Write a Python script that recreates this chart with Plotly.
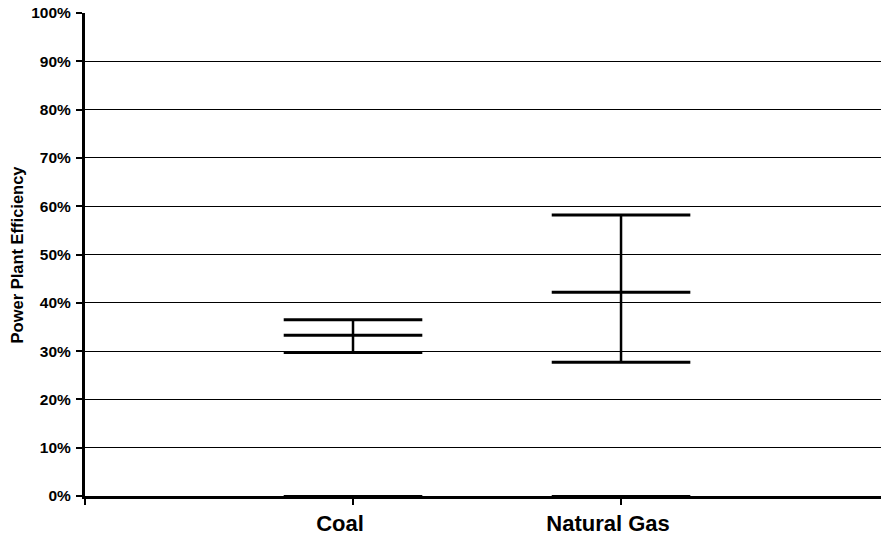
import plotly.graph_objects as go

categories = ["Coal", "Natural Gas"]
high = [36.5, 58.2]
mid = [33.3, 42.2]
low = [29.7, 27.7]
base = [0, 0]
y_ticks = [0, 10, 20, 30, 40, 50, 60, 70, 80, 90, 100]
y_tick_labels = [f"{v}%" for v in y_ticks]

x_pos = [i + 1 for i in range(len(categories))]
FONT = "Arial, Liberation Sans, sans-serif"
CAP = 99

fig = go.Figure()

# vertical high-low lines
vx, vy = [], []
for x, lo, hi in zip(x_pos, low, high):
    vx += [x, x, None]
    vy += [lo, hi, None]
fig.add_trace(go.Scatter(x=vx, y=vy, mode="lines",
                         line=dict(color="black", width=2.5),
                         showlegend=False, hoverinfo="skip"))

for vals, w in [(high, 3), (mid, 3), (low, 3), (base, 2)]:
    fig.add_trace(go.Scatter(
        x=x_pos, y=vals, mode="markers",
        marker=dict(symbol="line-ew", size=CAP,
                    line=dict(color="black", width=w)),
        showlegend=False, cliponaxis=False))

fig.update_layout(
    width=881, height=536,
    margin=dict(l=85, r=0, t=13, b=37),
    paper_bgcolor="white", plot_bgcolor="white",
    font=dict(family=FONT, color="black"),
    xaxis=dict(
        range=[0, 2.97], tickvals=[0] + x_pos, ticktext=[""] + categories,
        showgrid=False, zeroline=False,
        showline=True, linecolor="black", linewidth=2.5,
        ticks="outside", ticklen=6, tickwidth=2, tickcolor="black",
        tickfont=dict(family=FONT, size=22, weight="bold", color="black"),
        ticklabelshift=-13,
    ),
    yaxis=dict(
        range=[0, 100], tickvals=y_ticks, ticktext=y_tick_labels,
        showgrid=True, gridcolor="black", gridwidth=1,
        zeroline=False,
        showline=True, linecolor="black", linewidth=3,
        ticks="outside", ticklen=6, tickwidth=2, tickcolor="black",
        tickfont=dict(family=FONT, size=15.5, weight="bold", color="black"),
        ticklabelstandoff=2,
    ),
    annotations=[dict(
        text="Power Plant Efficiency", textangle=-90,
        xref="paper", yref="paper", x=-0.0855, y=0.5,
        xanchor="center", yanchor="middle", showarrow=False,
        font=dict(family=FONT, size=16.5, weight="bold", color="black"),
    )],
)

fig.write_html("out.html")
